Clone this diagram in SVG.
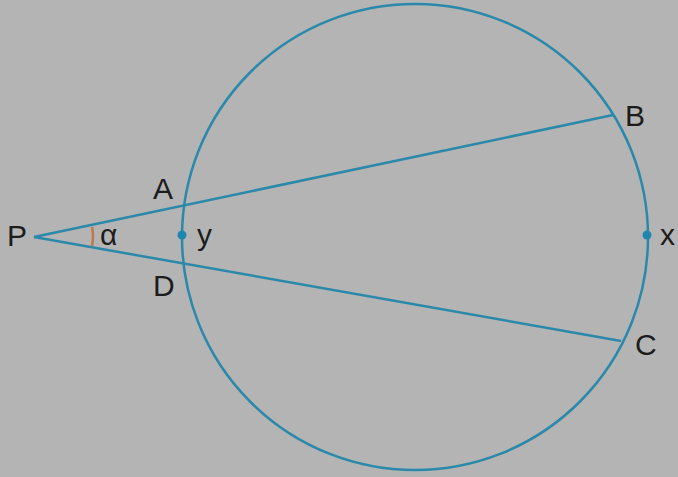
<svg xmlns="http://www.w3.org/2000/svg" width="678" height="477" viewBox="0 0 678 477">
<style>
.ln{fill:none;stroke:#2a89aa;stroke-width:2.5}
.lb{font-family:"Liberation Sans",Arial,sans-serif;font-size:30px;fill:#1c1c1c}
.dot{fill:#1f86b0}
</style>
<rect width="678" height="477" fill="#b4b4b4"/>
<g id="circle"><circle class="ln" cx="415" cy="237" r="233"/></g>
<g id="connectors">
<line class="ln" x1="34" y1="237" x2="613" y2="115"/>
<line class="ln" x1="34" y1="237" x2="621" y2="341"/>
<path d="M92 227 Q94 236 92 246" fill="none" stroke="#c0754a" stroke-width="2.5"/>
</g>
<g id="P"><text class="lb" x="7" y="246">P</text></g>
<g id="A"><text class="lb" x="153" y="199">A</text></g>
<g id="D"><text class="lb" x="153" y="296">D</text></g>
<g id="Y"><circle class="dot" cx="182" cy="235" r="4.5"/><text class="lb" x="197" y="245">y</text></g>
<g id="X"><circle class="dot" cx="647" cy="235" r="4.5"/><text class="lb" x="660" y="245">x</text></g>
<g id="B"><text class="lb" x="625" y="126">B</text></g>
<g id="C"><text class="lb" x="635" y="355">C</text></g>
<g id="alpha"><text class="lb" x="100" y="245">α</text></g>
</svg>
